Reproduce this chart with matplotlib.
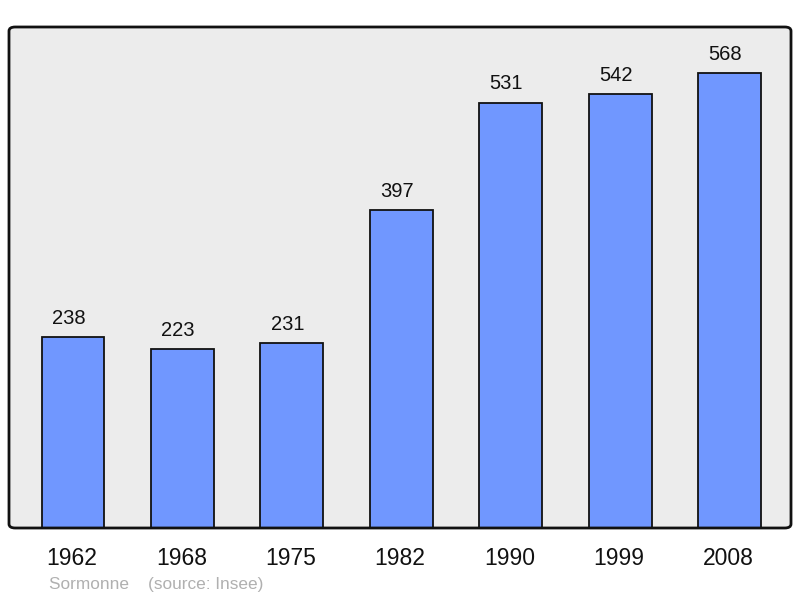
import matplotlib
matplotlib.use("Agg")
import matplotlib.pyplot as plt
from matplotlib.patches import FancyBboxPatch
from matplotlib.transforms import ScaledTranslation

years = ["1962", "1968", "1975", "1982", "1990", "1999", "2008"]
population = [238, 223, 231, 397, 531, 542, 568]

plt.rcParams['font.family'] = ['Liberation Sans', 'DejaVu Sans']

fig = plt.figure(figsize=(8.0, 5.98), dpi=100)
ax = fig.add_axes([9/800, 1-528/598, 782/800, 501/598])
ax.patch.set_visible(False)

# rounded background frame (fill below bars, edge above)
fill = FancyBboxPatch((0, 0), 1, 1, boxstyle="round,pad=0,rounding_size=0.008",
                      transform=ax.transAxes, facecolor='#ececec',
                      edgecolor='none', zorder=0, clip_on=False)
edge = FancyBboxPatch((0, 0), 1, 1, boxstyle="round,pad=0,rounding_size=0.008",
                      transform=ax.transAxes, facecolor='none',
                      edgecolor='#111111', linewidth=2, zorder=3, clip_on=False)
ax.add_patch(fill)
ax.add_patch(edge)

x = list(range(len(years)))
ax.bar(x, population, width=0.575, color='#7097ff', edgecolor='#111111',
       linewidth=1.3, zorder=2)
for xi, v in zip(x, population):
    ax.annotate(str(v), (xi, v), xytext=(-3.3, 9.6), textcoords='offset points',
                ha='center', va='baseline', fontsize=14.5, color='#111111')

ax.set_xlim(-0.585, 6.56)
ax.set_ylim(0, 625.5)
for s in ax.spines.values():
    s.set_visible(False)
ax.set_yticks([])
ax.set_xticks(x)
ax.set_xticklabels(years, fontsize=16.5, color='#111111')
ax.tick_params(axis='x', length=0, pad=14)
for lbl in ax.get_xticklabels():
    lbl.set_transform(lbl.get_transform() + ScaledTranslation(-1.2/100, 0, fig.dpi_scale_trans))

fig.text(49/800, 1-584/598, "Sormonne    (source: Insee)", fontsize=12.4,
         color='#b0b0b0', ha='left', va='center')

fig.savefig("out.png", dpi=100)
